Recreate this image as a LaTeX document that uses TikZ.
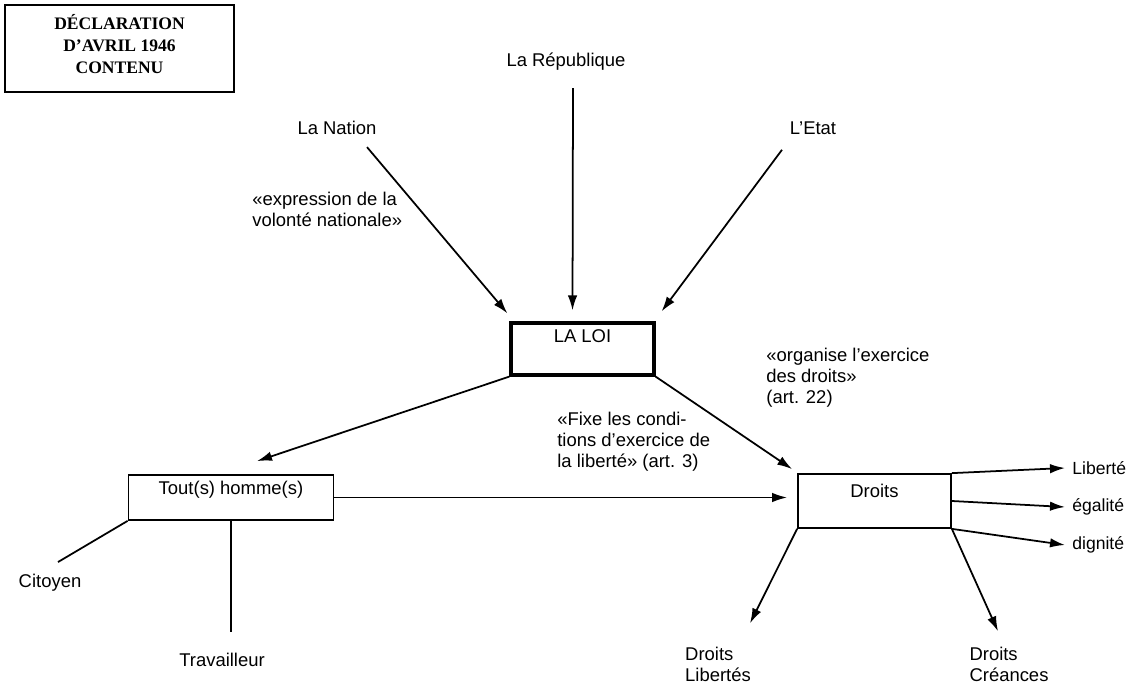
\documentclass[tikz,border=0pt]{standalone}
\usepackage{fontspec}
\setmainfont{Liberation Sans}
\newfontfamily\titrefont{Liberation Serif}
\usetikzlibrary{arrows.meta}
\tikzset{>={Latex[length=3mm,width=1.9mm]}}
\tikzset{
  lbl/.style={inner sep=0pt, font=\fontsize{10.5}{12}\selectfont},
  petit/.style={inner sep=0pt, font=\fontsize{10}{12}\selectfont},
  boite/.style={draw, line width=1pt, inner xsep=0pt, inner ysep=0pt,
    font=\fontsize{10.5}{12}\selectfont},
  fleche/.style={->, line width=1pt},
  trait/.style={line width=1pt}
}

\begin{document}
\begin{tikzpicture}[x=0.02cm, y=-0.02cm]
  \useasboundingbox (0,0) rectangle (1128,688);

    % TITRE
    \node[draw, line width=0.8pt, minimum width=4.58cm, minimum height=1.74cm, align=center,
      font=\titrefont\bfseries\fontsize{10}{12.5}\selectfont] (titre) at (119.5,48.5)
      {\raisebox{2.5pt}[\height][\depth]{\parbox{4cm}{\centering DÉCLARATION\\D’AVRIL 1946\\CONTENU}}};

    % SOURCES DE LA LOI
    \node[lbl] (rep) at (566,62) {La République};
    \node[lbl] (nation) at (337,128) {La Nation};
    \node[lbl] (etat) at (813,128) {L’Etat};
    \node[lbl, anchor=west, align=left] (expr) at (252,209) {«expression de la\\volonté nationale»};

    % BOITES
    \node[boite, line width=1.8pt, minimum width=2.86cm, text height=0.4cm, text depth=0.64cm] (loi) at (582.5,349) {LA LOI};
    \node[boite, minimum width=4.1cm, text height=0.4cm, text depth=0.5cm] (homme) at (231,497.5) {Tout(s) homme(s)};
    \node[boite, minimum width=3.06cm, text height=0.46cm, text depth=0.62cm] (droits) at (874.5,501) {Droits};

    \node[lbl, anchor=west, align=left] (organise) at (766,378) {«organise l’exercice\\des droits»\\(art. 22)};
    \node[lbl, anchor=west, align=left] (fixe) at (557,442) {«Fixe les condi-\\tions d’exercice de\\la liberté» (art. 3)};

    % FEUILLES
    \node[lbl] (cit) at (50,583) {Citoyen};
    \node[lbl] (trav) at (222,660) {Travailleur};
    \node[lbl, align=left] (dl) at (718,664) {Droits\\Libertés};
    \node[lbl, align=left] (dc) at (1009,664) {Droits\\Créances};
    \node[petit, anchor=west] (lib) at (1072,468) {Liberté};
    \node[petit, anchor=west] (ega) at (1072,507) {égalité};
    \node[petit, anchor=west] (dig) at (1072,545) {dignité};

    % FLECHES
    \draw[fleche] ([shift={(30,12)}]nation.south) -- ([shift={(-2,-8)}]loi.north west);
    \draw[fleche] ([shift={(7,17)}]rep.south) -- ([shift={(-10,-11)}]loi.north);
    \draw[fleche] ([shift={(-31,15)}]etat.south) -- ([shift={(6,-10)}]loi.north east);

    \draw[fleche] (loi.south west) -- ([shift={(26,-13)}]homme.north);
    \draw[fleche] (loi.south east) -- ([shift={(-5,-4)}]droits.north west);
    \draw[fleche] (homme.east) -- ([shift={(-10,0)}]droits.west |- homme.east);

    \draw[trait] (homme.south west) -- ([shift={(8,-12)}]cit.north);
    \draw[trait] (homme.south) -- ([shift={(0,-21)}]homme.south |- trav.north);

    \draw[fleche] (droits.north east) -- ([shift={(-7,0)}]lib.west);
    \draw[fleche] (droits.east) -- ([shift={(-7,0)}]ega.west);
    \draw[fleche] (droits.south east) -- ([shift={(-7,0)}]dig.west);
    \draw[fleche] (droits.south west) -- ([shift={(32,-23)}]dl.north);
    \draw[fleche] (droits.south east) -- ([shift={(-11,-15)}]dc.north);

\end{tikzpicture}
\end{document}
